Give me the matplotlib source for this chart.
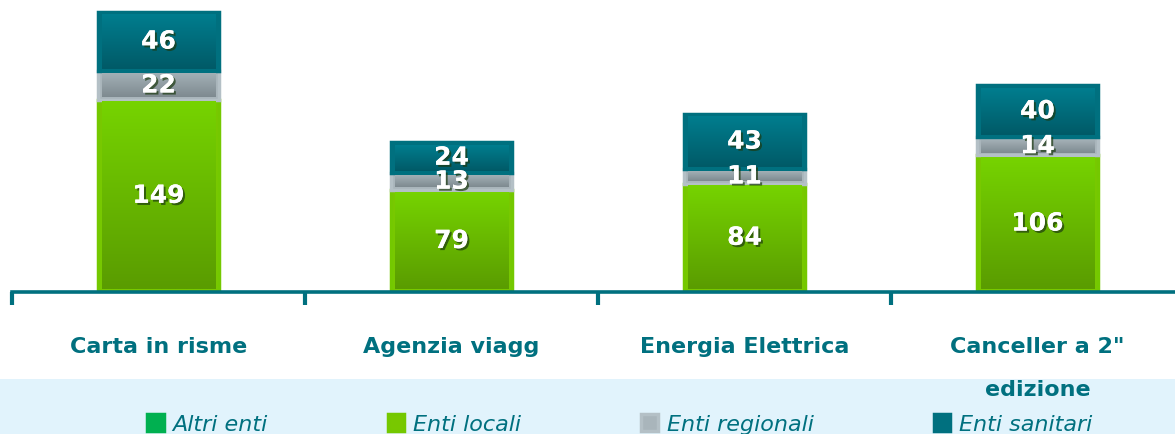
import matplotlib
matplotlib.use("Agg")
import matplotlib.pyplot as plt
import matplotlib.patheffects as pe
from matplotlib.patches import Rectangle
import numpy as np

categories = ["Carta in risme", "Agenzia viagg", "Energia Elettrica", "Canceller a 2\"\nedizione"]
altri_enti = [0, 0, 0, 0]
enti_locali = [149, 79, 84, 106]
enti_regionali = [22, 13, 11, 14]
enti_sanitari = [46, 24, 43, 40]
series_names = ["Altri enti", "Enti locali", "Enti regionali", "Enti sanitari"]

W, H = 1175, 435
fig = plt.figure(figsize=(W / 100, H / 100), dpi=100)
fig.patch.set_facecolor("white")
# light blue band at the bottom
fig.patches.append(Rectangle((0, 0), 1, 55 / H, transform=fig.transFigure,
                             facecolor="#E1F3FC", edgecolor="none", zorder=-5))

teal = "#00707F"
ax = fig.add_axes([12 / W, 1 - 293 / H, 1172 / W, 293 / H])
ax.set_facecolor("none")
ax.set_zorder(1)
x = np.arange(len(categories))
width = 0.41

specs = [
    (altri_enti, "#00B050", "#00B050", ("#00B050", "#00B050")),
    (enti_locali, "#78C800", "#74C800", ("#76D300", "#5A9C00")),
    (enti_regionali, "#A9B5BB", "#B4C0C6", ("#A3B0B6", "#7E8A90")),
    (enti_sanitari, "#00707F", "#00707F", ("#007D8E", "#005A67")),
]
bottom = np.zeros(len(categories))
handles = []
for (vals, fc, ec, grad), name in zip(specs, series_names):
    vals = np.array(vals, dtype=float)
    bars = ax.bar(x, vals, width, bottom=bottom, color=fc, edgecolor=ec,
                  linewidth=2.5, label=name, zorder=2)
    handles.append(bars)
    c0 = np.array(matplotlib.colors.to_rgb(grad[0]))
    c1 = np.array(matplotlib.colors.to_rgb(grad[1]))
    for b in bars:
        h = b.get_height()
        if h <= 0:
            continue
        t = np.linspace(0, 1, 64)[:, None]
        img = (c0 * (1 - t) + c1 * t)[:, None, :]
        x0, y0 = b.get_x(), b.get_y()
        inset_x = 0.012
        inset_y = 2.0 if h > 6 else 0.0
        ax.imshow(img, extent=(x0 + inset_x, x0 + b.get_width() - inset_x,
                               y0 + inset_y, y0 + h - inset_y),
                  origin="upper", aspect="auto", zorder=3, interpolation="bilinear")
    for xi, v, bt in zip(x, vals, bottom):
        if v > 0:
            ax.text(xi, bt + v / 2, f"{int(v)}", ha="center", va="center",
                    color="white", fontsize=18, fontweight="bold", zorder=5,
                    path_effects=[pe.withSimplePatchShadow(offset=(1.5, -1.5),
                                                           shadow_rgbFace="#1c3a10", alpha=0.7),
                                  pe.Normal()])
    bottom += vals

ax.set_xlim(-0.5, 3.5)
ax.set_ylim(0, 227)
for s in ["top", "right", "left"]:
    ax.spines[s].set_visible(False)
ax.spines["bottom"].set_color(teal)
ax.spines["bottom"].set_linewidth(2.6)
ax.spines["bottom"].set_zorder(4)
ax.set_yticks([])
ax.set_xticks(x)
ax.set_xticklabels(categories, color=teal, fontsize=16, fontweight="bold",
                   linespacing=2.4)
ax.tick_params(axis="x", which="major", length=0, pad=32)
ax.set_xticks(np.arange(-0.5, 4.0, 1.0), minor=True)
ax.tick_params(axis="x", which="minor", length=9, width=3, color=teal, direction="out")

leg = fig.legend(handles=handles, labels=series_names, loc="center left",
                 bbox_to_anchor=(138 / W, 1 - 425 / H), ncol=4, frameon=False,
                 handlelength=0.75, handleheight=0.8, handletextpad=0.4,
                 columnspacing=5.4, borderaxespad=0, labelcolor=teal,
                 prop={"style": "italic", "size": 16})
fig.savefig("out.png", dpi=100)
